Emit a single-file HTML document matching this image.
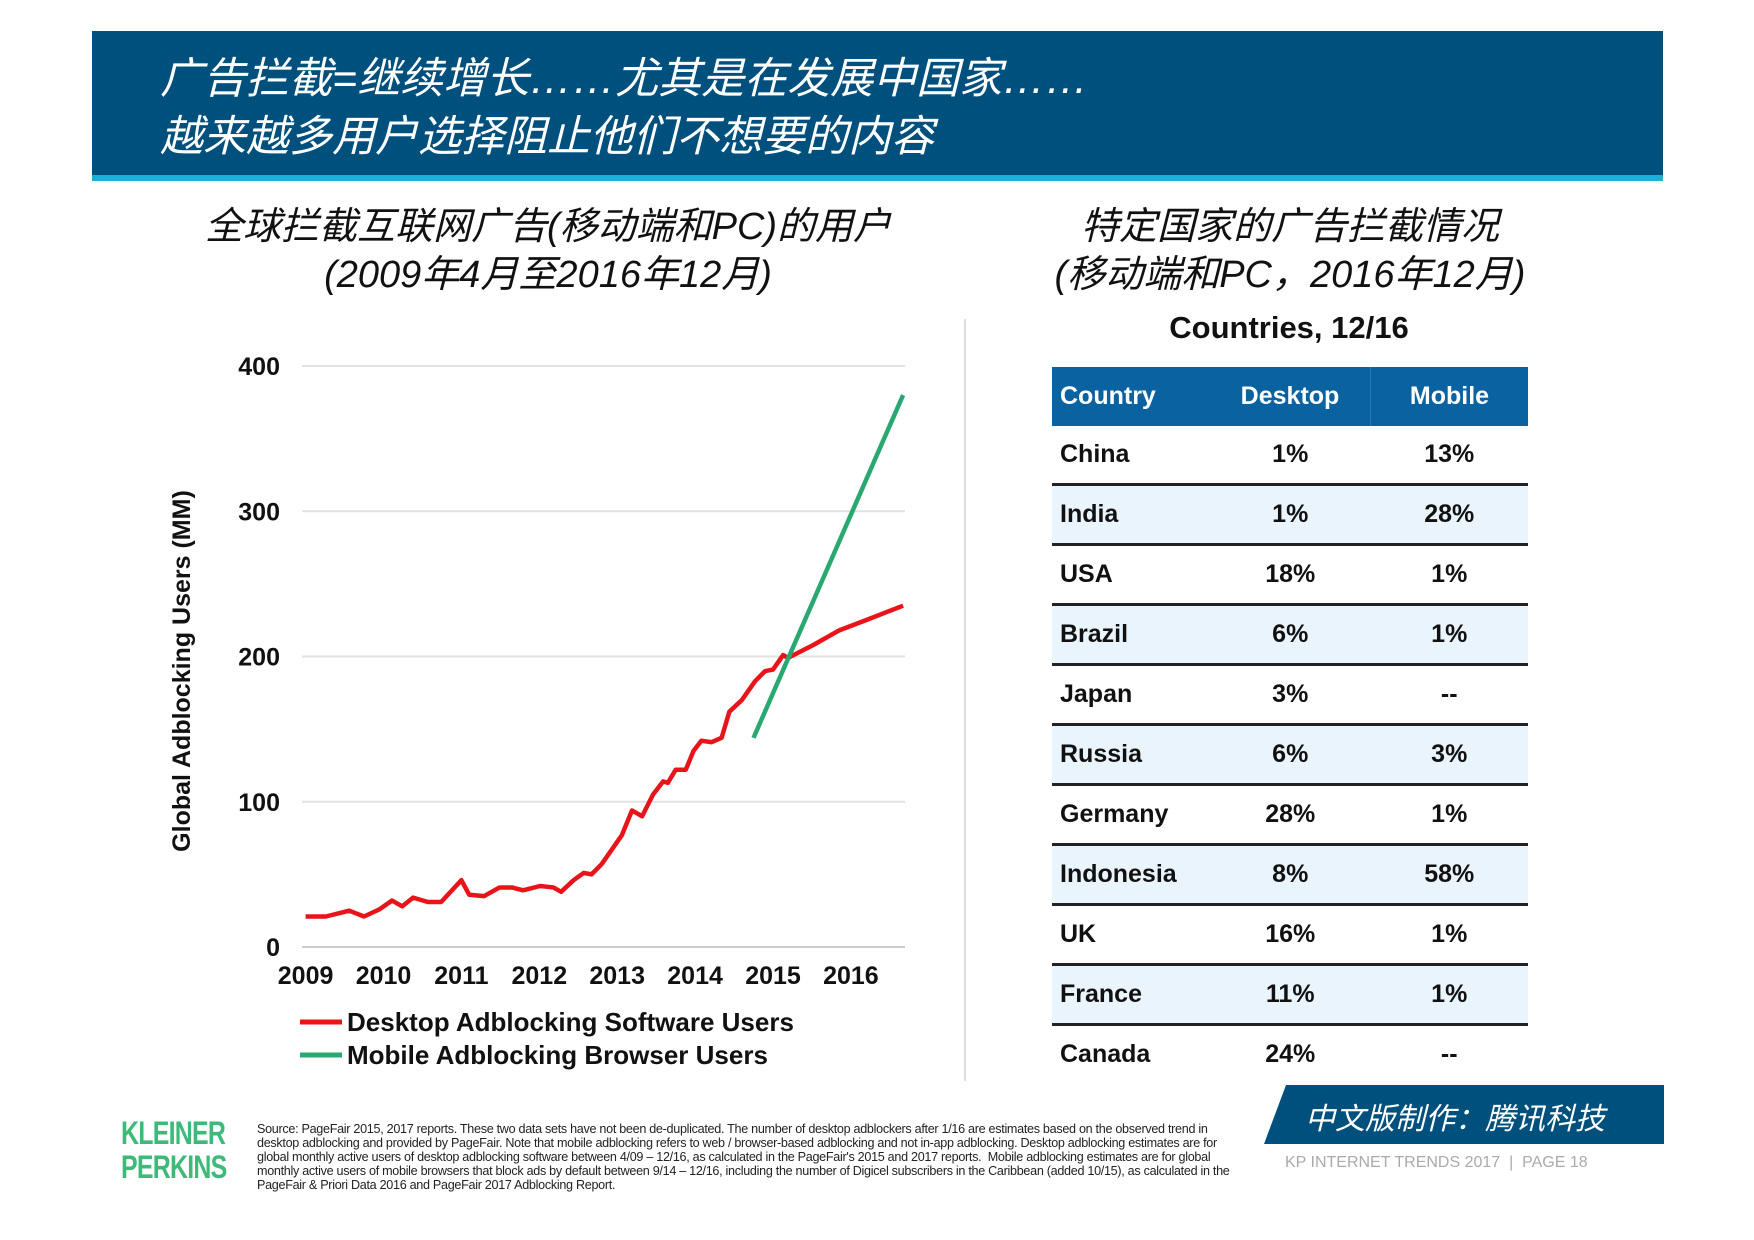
<!DOCTYPE html>
<html><head><meta charset="utf-8">
<style>
body{margin:0;width:1754px;height:1240px;background:#fff;position:relative;overflow:hidden;font-family:"Liberation Sans","Noto Sans CJK SC",sans-serif;}
.abs{position:absolute;}
.zh{font-style:italic;}
table{border-collapse:collapse;}
td,th{padding:0;}
</style></head><body>
<div class="abs" style="left:92px;top:31px;width:1571px;height:144px;background:#00507d;"></div>
<div class="abs" style="left:92px;top:175px;width:1571px;height:6px;background:#1bb1d3;"></div>
<div class="abs zh" style="left:160px;top:50px;color:#fff;font-size:43px;line-height:58px;">广告拦截=继续增长……尤其是在发展中国家……<br>越来越多用户选择阻止他们不想要的内容</div>

<div class="abs zh" style="left:148px;width:800px;top:203px;text-align:center;font-size:38px;line-height:48px;color:#111;">全球拦截互联网广告(移动端和PC)的用户<br>(2009年4月至2016年12月)</div>
<div class="abs zh" style="left:990px;width:600px;top:203px;text-align:center;font-size:38px;line-height:48px;color:#111;">特定国家的广告拦截情况<br>(移动端和PC，2016年12月)</div>
<div class="abs" style="left:1089px;width:400px;top:310px;text-align:center;font-size:31px;font-weight:bold;color:#111;">Countries, 12/16</div>
<div class="abs" style="left:964px;top:319px;width:2px;height:762px;background:#ddd;"></div>

<svg class="abs" style="left:0;top:0" width="1000" height="1100">
<g id="grid"></g><g id="lines"></g>
<text x="190" y="671" transform="rotate(-90 190 671)" text-anchor="middle" font-size="25" font-weight="bold" fill="#111">Global Adblocking Users (MM)</text>
<line x1="300" y1="1022" x2="342" y2="1022" stroke="#e8141a" stroke-width="5"/>
<text x="347" y="1031" font-size="26" font-weight="bold" fill="#111">Desktop Adblocking Software Users</text>
<line x1="300" y1="1055" x2="342" y2="1055" stroke="#2aa872" stroke-width="5"/>
<text x="347" y="1064" font-size="26" font-weight="bold" fill="#111">Mobile Adblocking Browser Users</text>
</svg>

<table class="abs" style="left:1052px;top:367px;width:476px;font-size:25px;font-weight:bold;color:#111;">
<tbody id="tb"></tbody></table>

<div class="abs" style="left:121px;top:1116px;color:#3dba7a;font-size:32px;font-weight:bold;line-height:34px;transform:scaleX(0.78);transform-origin:left;letter-spacing:-1px;">KLEINER<br>PERKINS</div>
<div class="abs" style="left:257px;top:1122px;width:975px;font-size:12.6px;line-height:14px;color:#222;letter-spacing:-0.3px;">Source: PageFair 2015, 2017 reports. These two data sets have not been de-duplicated. The number of desktop adblockers after 1/16 are estimates based on the observed trend in desktop adblocking and provided by PageFair. Note that mobile adblocking refers to web / browser-based adblocking and not in-app adblocking. Desktop adblocking estimates are for global monthly active users of desktop adblocking software between 4/09 – 12/16, as calculated in the PageFair's 2015 and 2017 reports.&nbsp; Mobile adblocking estimates are for global monthly active users of mobile browsers that block ads by default between 9/14 – 12/16, including the number of Digicel subscribers in the Caribbean (added 10/15), as calculated in the PageFair &amp; Priori Data 2016 and PageFair 2017 Adblocking Report.</div>
<svg class="abs" style="left:1264px;top:1085px" width="400" height="60"><polygon points="22,0 400,0 400,59 0,59" fill="#00507d"/></svg>
<div class="abs zh" style="left:1305px;top:1094px;color:#fff;font-size:30px;">中文版制作：腾讯科技</div>
<div class="abs" style="left:1285px;top:1154px;color:#aaa;font-size:16px;">KP INTERNET TRENDS 2017 &nbsp;|&nbsp; PAGE 18</div>

<script>
const yTicks=[0,100,200,300,400];
const xTicks=[2009,2010,2011,2012,2013,2014,2015,2016];
const desktopT=[2009.0,2009.26,2009.56,2009.75,2009.95,2010.11,2010.24,2010.38,2010.57,2010.74,2011.0,2011.1,2011.29,2011.49,2011.65,2011.79,2012.01,2012.18,2012.28,2012.44,2012.57,2012.67,2012.8,2012.93,2013.06,2013.19,2013.32,2013.46,2013.59,2013.65,2013.75,2013.88,2013.98,2014.08,2014.21,2014.34,2014.44,2014.6,2014.77,2014.9,2015.0,2015.13,2015.19,2015.52,2015.85,2016.24,2016.67];
const desktopV=[21,21,25,21,26,32,28,34,31,31,46,36,35,41,41,39,42,41,38,46,51,50,57,67,77,94,90,105,114,113,122,122,135,142,141,144,162,170,183,190,191,201,199,208,218,226,235];
const mobileT=[2014.75,2016.67];
const mobileV=[144,380];
const countries=["China","India","USA","Brazil","Japan","Russia","Germany","Indonesia","UK","France","Canada"];
const desktopPct=["1%","1%","18%","6%","3%","6%","28%","8%","16%","11%","24%"];
const mobilePct=["13%","28%","1%","1%","--","3%","1%","58%","1%","1%","--"];

const NS="http://www.w3.org/2000/svg";
const X=t=>305.6+(t-2009)*77.9;
const Y=v=>947-v*1.4525;
const grid=document.getElementById('grid'),lines=document.getElementById('lines');
yTicks.forEach(v=>{
  const l=document.createElementNS(NS,'line');
  l.setAttribute('x1',302);l.setAttribute('x2',905);l.setAttribute('y1',Y(v));l.setAttribute('y2',Y(v));
  l.setAttribute('stroke',v==0?'#ccc':'#e2e2e2');l.setAttribute('stroke-width',2);
  
  
  grid.appendChild(l);
  const t=document.createElementNS(NS,'text');
  t.setAttribute('x',280);t.setAttribute('y',Y(v)+9);t.setAttribute('text-anchor','end');
  t.setAttribute('font-size',25);t.setAttribute('font-weight','bold');t.setAttribute('fill','#111');
  t.textContent=v;
  
  
  grid.appendChild(t);
});
xTicks.forEach(v=>{
  const t=document.createElementNS(NS,'text');
  t.setAttribute('x',X(v));t.setAttribute('y',984);t.setAttribute('text-anchor','middle');
  t.setAttribute('font-size',25);t.setAttribute('font-weight','bold');t.setAttribute('fill','#111');
  t.textContent=v;
  
  
  grid.appendChild(t);
});
function line(ts,vs,color,name){
  const p=document.createElementNS(NS,'polyline');
  p.setAttribute('points',ts.map((t,i)=>X(t)+','+Y(vs[i])).join(' '));
  p.setAttribute('fill','none');p.setAttribute('stroke',color);p.setAttribute('stroke-width',4.5);
  p.setAttribute('stroke-linejoin','round');
  
  
  lines.appendChild(p);
}
line(desktopT,desktopV,'#e8141a','desktop-series');
line(mobileT,mobileV,'#2aa872','mobile-series');

const tb=document.getElementById('tb');
const hr=document.createElement('tr');


hr.innerHTML='<th style="height:59px;background:#0a63a0;color:#fff;text-align:left;padding-left:8px;width:150px">Country</th><th style="background:#0a63a0;color:#fff;border-right:1px solid #2a79b0;width:160px">Desktop</th><th style="background:#0a63a0;color:#fff">Mobile</th>';
tb.appendChild(hr);
countries.forEach((c,i)=>{
  const r=document.createElement('tr');
  
  
  const bg=i%2?'#eaf4fc':'#fff';
  const bd=i<countries.length-1?'border-bottom:3px solid #222;':'';
  r.innerHTML=`<td style="height:57px;background:${bg};${bd}padding-left:8px">${c}</td><td style="background:${bg};${bd}text-align:center">${desktopPct[i]}</td><td style="background:${bg};${bd}text-align:center">${mobilePct[i]}</td>`;
  tb.appendChild(r);
});
</script>
</body></html>
